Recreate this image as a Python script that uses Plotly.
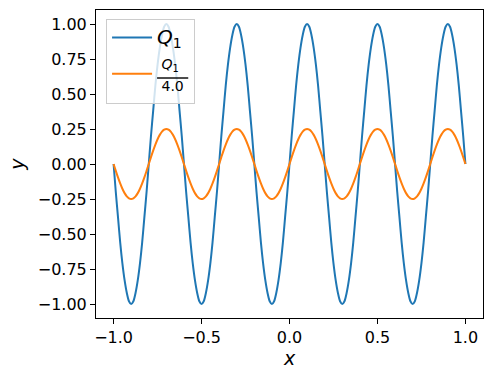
import plotly.graph_objects as go

# x samples every 0.0125 from -1 to 1
x_vals = [round(-1 + 0.0125 * k, 4) for k in range(161)]

# Q1 values
q1_vals = [
    0.00, -0.20, -0.38, -0.56, -0.71, -0.83, -0.92, -0.98, -1.00, -0.98, -0.92, -0.83, -0.71, -0.56, -0.38, -0.20,
    0.00, 0.20, 0.38, 0.56, 0.71, 0.83, 0.92, 0.98, 1.00, 0.98, 0.92, 0.83, 0.71, 0.56, 0.38, 0.20,
    0.00, -0.20, -0.38, -0.56, -0.71, -0.83, -0.92, -0.98, -1.00, -0.98, -0.92, -0.83, -0.71, -0.56, -0.38, -0.20,
    0.00, 0.20, 0.38, 0.56, 0.71, 0.83, 0.92, 0.98, 1.00, 0.98, 0.92, 0.83, 0.71, 0.56, 0.38, 0.20,
    0.00, -0.20, -0.38, -0.56, -0.71, -0.83, -0.92, -0.98, -1.00, -0.98, -0.92, -0.83, -0.71, -0.56, -0.38, -0.20,
    0.00, 0.20, 0.38, 0.56, 0.71, 0.83, 0.92, 0.98, 1.00, 0.98, 0.92, 0.83, 0.71, 0.56, 0.38, 0.20,
    0.00, -0.20, -0.38, -0.56, -0.71, -0.83, -0.92, -0.98, -1.00, -0.98, -0.92, -0.83, -0.71, -0.56, -0.38, -0.20,
    0.00, 0.20, 0.38, 0.56, 0.71, 0.83, 0.92, 0.98, 1.00, 0.98, 0.92, 0.83, 0.71, 0.56, 0.38, 0.20,
    0.00, -0.20, -0.38, -0.56, -0.71, -0.83, -0.92, -0.98, -1.00, -0.98, -0.92, -0.83, -0.71, -0.56, -0.38, -0.20,
    0.00, 0.20, 0.38, 0.56, 0.71, 0.83, 0.92, 0.98, 1.00, 0.98, 0.92, 0.83, 0.71, 0.56, 0.38, 0.20,
    0.00,
]

# Q1 / 4.0 values
q1_quarter_vals = [
    0.000, -0.049, -0.096, -0.139, -0.177, -0.208, -0.231, -0.245, -0.250, -0.245, -0.231, -0.208, -0.177, -0.139, -0.096, -0.049,
    0.000, 0.049, 0.096, 0.139, 0.177, 0.208, 0.231, 0.245, 0.250, 0.245, 0.231, 0.208, 0.177, 0.139, 0.096, 0.049,
    0.000, -0.049, -0.096, -0.139, -0.177, -0.208, -0.231, -0.245, -0.250, -0.245, -0.231, -0.208, -0.177, -0.139, -0.096, -0.049,
    0.000, 0.049, 0.096, 0.139, 0.177, 0.208, 0.231, 0.245, 0.250, 0.245, 0.231, 0.208, 0.177, 0.139, 0.096, 0.049,
    0.000, -0.049, -0.096, -0.139, -0.177, -0.208, -0.231, -0.245, -0.250, -0.245, -0.231, -0.208, -0.177, -0.139, -0.096, -0.049,
    0.000, 0.049, 0.096, 0.139, 0.177, 0.208, 0.231, 0.245, 0.250, 0.245, 0.231, 0.208, 0.177, 0.139, 0.096, 0.049,
    0.000, -0.049, -0.096, -0.139, -0.177, -0.208, -0.231, -0.245, -0.250, -0.245, -0.231, -0.208, -0.177, -0.139, -0.096, -0.049,
    0.000, 0.049, 0.096, 0.139, 0.177, 0.208, 0.231, 0.245, 0.250, 0.245, 0.231, 0.208, 0.177, 0.139, 0.096, 0.049,
    0.000, -0.049, -0.096, -0.139, -0.177, -0.208, -0.231, -0.245, -0.250, -0.245, -0.231, -0.208, -0.177, -0.139, -0.096, -0.049,
    0.000, 0.049, 0.096, 0.139, 0.177, 0.208, 0.231, 0.245, 0.250, 0.245, 0.231, 0.208, 0.177, 0.139, 0.096, 0.049,
    0.000,
]

x_ticks = [-1.0, -0.5, 0.0, 0.5, 1.0]
x_tick_labels = ["\u22121.0", "\u22120.5", "0.0", "0.5", "1.0"]
y_ticks = [-1.0, -0.75, -0.5, -0.25, 0.0, 0.25, 0.5, 0.75, 1.0]
y_tick_labels = ["\u22121.00", "\u22120.75", "\u22120.50", "\u22120.25", "0.00",
                 "0.25", "0.50", "0.75", "1.00"]

name_q1 = "<span style='font-size:20px'><i>Q</i><sub>1</sub></span>"
name_q1_quarter = ("<span style='font-size:14px'>"
                   "&nbsp;<i>Q</i><sub>1</sub>"
                   "<br><span style='text-decoration:overline'>&nbsp;4.0&nbsp;</span></span>")

fig = go.Figure()
fig.add_trace(go.Scatter(
    x=x_vals, y=q1_vals, mode="lines", name=name_q1,
    line=dict(color="#1f77b4", width=2, shape="spline", smoothing=0.8),
))
fig.add_trace(go.Scatter(
    x=x_vals, y=q1_quarter_vals, mode="lines", name=name_q1_quarter,
    line=dict(color="#ff7f0e", width=2, shape="spline", smoothing=0.8),
))

axis_common = dict(
    showline=True, linecolor="black", linewidth=1, mirror=True,
    ticks="outside", ticklen=5, tickwidth=1, tickcolor="black",
    showgrid=False, zeroline=False,
    tickfont=dict(family="DejaVu Sans", size=16, color="black"),
)

fig.update_layout(
    width=492, height=380,
    margin=dict(l=96, r=9, t=10, b=62),
    plot_bgcolor="white", paper_bgcolor="white",
    font=dict(family="DejaVu Sans", color="black"),
    xaxis=dict(range=[-1.1, 1.1], tickvals=x_ticks, ticktext=x_tick_labels,
               title=dict(text="<i>x</i>", font=dict(size=19), standoff=4),
               **axis_common),
    yaxis=dict(range=[-1.1, 1.1], tickvals=y_ticks, ticktext=y_tick_labels,
               title=dict(text="<i>y</i>", font=dict(size=19), standoff=8),
               **axis_common),
    legend=dict(
        x=0.026, y=0.971, xanchor="left", yanchor="top",
        bgcolor="rgba(255,255,255,0.8)", bordercolor="#cccccc", borderwidth=1,
        font=dict(size=17, color="black"),
        itemwidth=40,
    ),
    showlegend=True,
)

fig.write_html("out.html", config={"displayModeBar": False},
               post_script="document.body.style.margin='0';")
